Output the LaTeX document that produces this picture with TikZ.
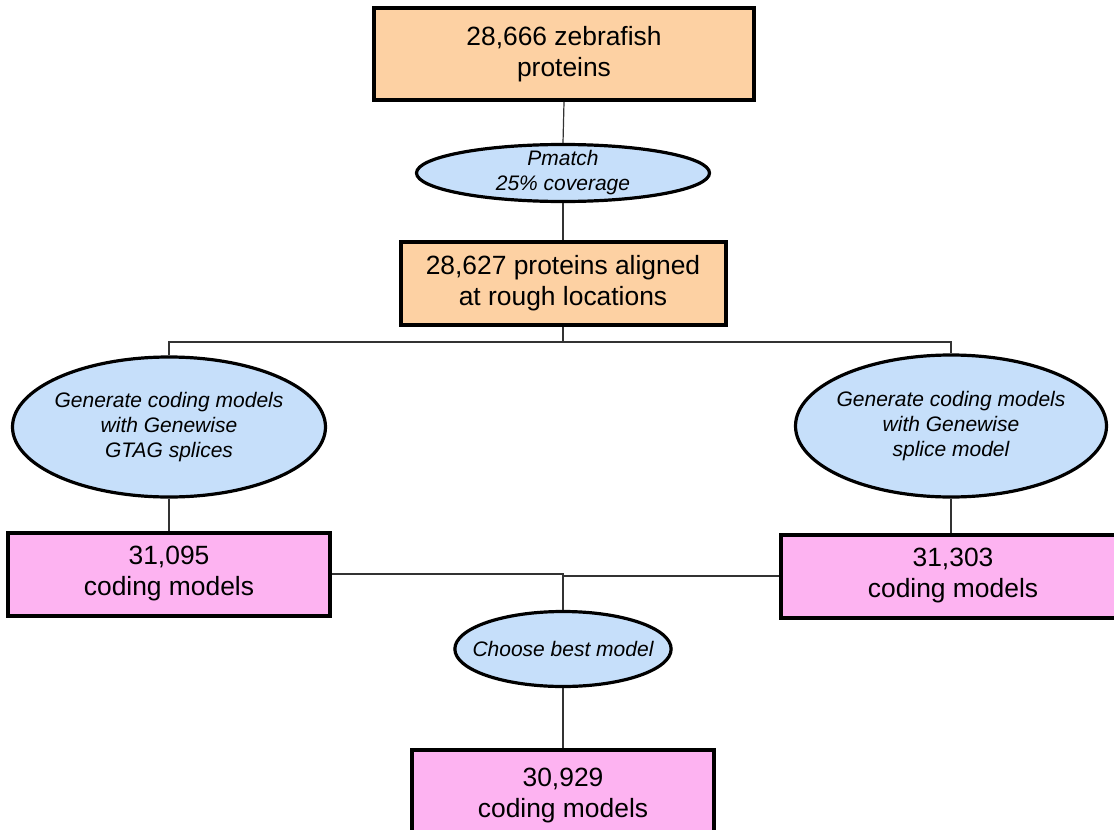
\documentclass[tikz,border=0pt]{standalone}
\usepackage{fontspec}
\setmainfont{Liberation Sans}
\usetikzlibrary{shapes.geometric}

\definecolor{peach}{HTML}{FDD1A3}
\definecolor{skyblue}{HTML}{C6DFFA}
\definecolor{rosebox}{HTML}{FDB3F1}

\begin{document}
\begin{tikzpicture}[x=0.5pt,y=-0.5pt,
  box/.style={draw,line width=2pt,inner sep=0pt,align=center,
    font=\fontsize{13.2}{15.5}\selectfont},
  oval/.style={draw,ellipse,line width=1.6pt,fill=skyblue,inner xsep=-2.5pt,
    inner ysep=0pt,align=center,font=\fontsize{10.5}{12.5}\selectfont\itshape},
  link/.style={line width=0.6pt,draw=black!80}]

\useasboundingbox (0,0) rectangle (1114,830);

% proteins
\node[box,fill=peach,minimum width=190pt,minimum height=46pt] (zebra) at (564,54)
  {28,666 zebrafish\\proteins};
\node[oval,inner ysep=-2pt,minimum width=146.5pt,minimum height=28.5pt] (pmatch) at (563,173)
  {Pmatch\\25\% coverage};
\node[box,fill=peach,minimum width=162.5pt,minimum height=41.5pt] (aligned) at (563,283)
  {28,627 proteins aligned\\at rough locations};

% two genewise runs
\node[oval,minimum width=156.5pt,minimum height=70pt] (gtag) at (169,427)
  {Generate coding models\\with Genewise\\GTAG splices};
\node[oval,minimum width=155.5pt,minimum height=71pt] (splice) at (951,426)
  {Generate coding models\\with Genewise\\splice model};

\node[box,fill=rosebox,minimum width=161pt,minimum height=41.5pt] (gtagmod) at (169,574)
  {31,095\\coding models};
\node[box,fill=rosebox,minimum width=172pt,minimum height=41.5pt] (splicemod) at (953,576)
  {31,303\\coding models};

% merge
\node[oval,inner xsep=-7pt,minimum width=107pt,minimum height=37.5pt] (best) at (563,649)
  {Choose best model};
\node[box,fill=rosebox,minimum width=151pt,minimum height=46pt] (final) at (563,796)
  {30,929\\coding models};

\coordinate (split) at (563,342);

\draw[link] (zebra.south) -- (pmatch.north);
\draw[link] (pmatch.south) -- (aligned.north);
\draw[link] (aligned.south) -- (split);
\draw[link] (gtag.north) |- (split) -| (splice.north);
\draw[link] (gtag.south) -- (gtagmod.north);
\draw[link] (splice.south) -- (splice.south |- splicemod.north);
\draw[link] (gtagmod.east) -| (best.north);
\draw[link] (splicemod.west) -| (best.north);
\draw[link] (best.south) -- (final.north);

\end{tikzpicture}
\end{document}
